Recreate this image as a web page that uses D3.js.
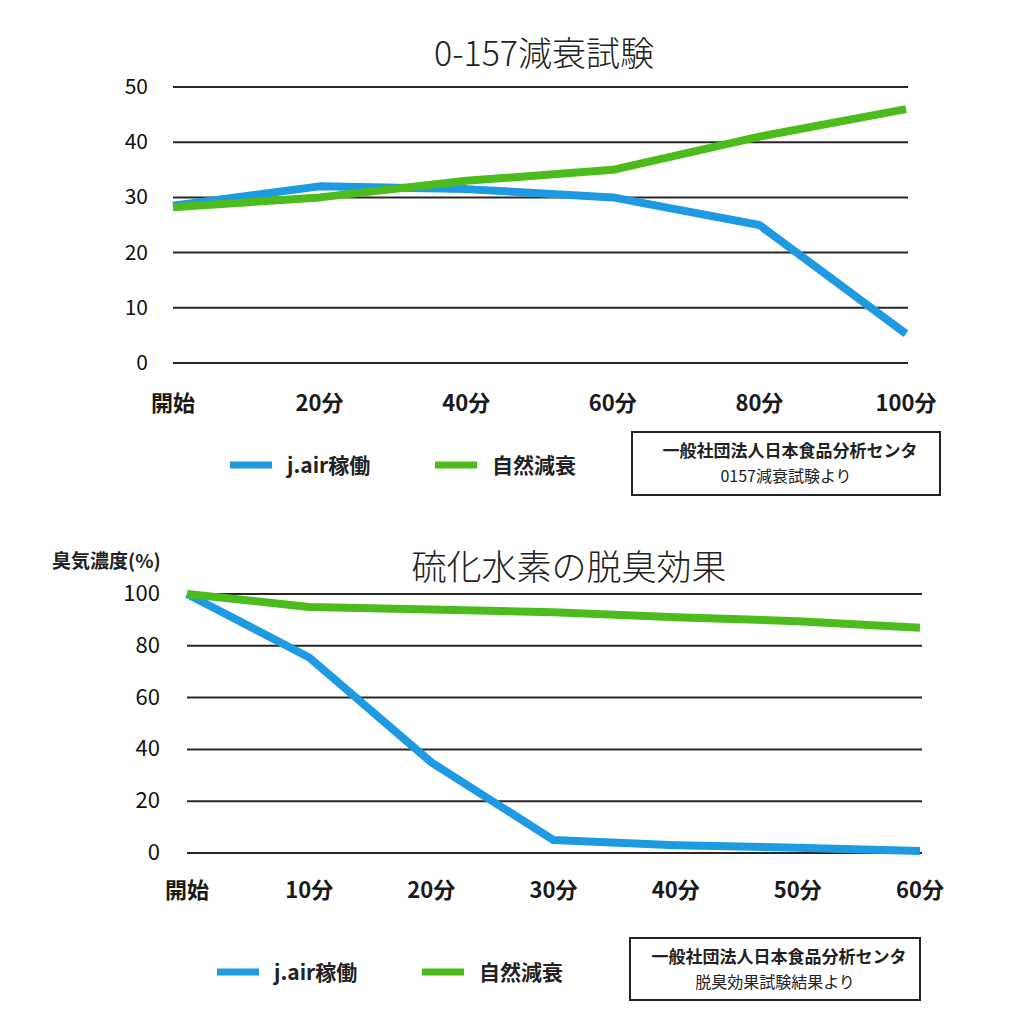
<!DOCTYPE html>
<html><head><meta charset="utf-8">
<script src="https://cdn.jsdelivr.net/npm/d3@7"></script>
<style>body{margin:0;background:#fff;} text{font-family:"Noto Sans CJK JP","Noto Sans",sans-serif;}</style>
</head><body>
<svg id="c" width="1009" height="1024"></svg>
<script>
const cats1 = ["開始","20分","40分","60分","80分","100分"];
const jair1 = [28.5, 32, 31.5, 30, 25, 5.3];
const nat1  = [28.2, 30, 33, 35, 41, 46];
const yTicks1 = [0,10,20,30,40,50];

const cats2 = ["開始","10分","20分","30分","40分","50分","60分"];
const jair2 = [100, 75.5, 35, 5, 3, 2, 0.8];
const nat2  = [100, 95, 94, 93, 91, 89.5, 87];
const yTicks2 = [0,20,40,60,80,100];

const seriesNames = ["j.air稼働","自然減衰"];
const colors = ["#1d9ae2","#4cbc1c"];

const svg = d3.select("#c");

function chart(o){
  const g = svg.append("g");
  const x = d3.scalePoint().domain(o.cats).range([o.x0,o.x1]);
  const y = d3.scaleLinear().domain([0,o.ymax]).range([o.yb,o.yt]);
  g.selectAll(".grid").data(o.ticks).enter().append("line")
    .attr("x1",o.x0).attr("x2",o.x1+2).attr("y1",d=>y(d)).attr("y2",d=>y(d))
    .attr("stroke","#2a2628").attr("stroke-width",2);
  g.selectAll(".yl").data(o.ticks).enter().append("text")
    .attr("x",o.ylx).attr("y",d=>y(d)+7).attr("text-anchor","end")
    .attr("font-size",o.yfs).attr("fill","#111").text(d=>d);
  g.selectAll(".xl").data(o.cats).enter().append("text")
    .attr("x",d=>x(d)).attr("y",o.xly).attr("text-anchor","middle")
    .attr("font-size",22).attr("font-weight","bold").attr("fill","#1a1a1a").text(d=>d);
  const line = d3.line().x((d,i)=>x(o.cats[i])).y(d=>y(d));
  [o.s1,o.s2].forEach((s,k)=>{
    g.append("path").attr("d",line(s)).attr("fill","none")
      .attr("stroke",colors[k]).attr("stroke-width",8).attr("stroke-linejoin","round");
  });
  g.append("text").attr("x",o.tx).attr("y",o.ty).attr("text-anchor","middle")
    .attr("font-size",o.tfs).attr("font-weight",300).attr("fill","#222").text(o.title);
  o.leg.forEach((lx,k)=>{
    g.append("line").attr("x1",lx).attr("x2",lx+42).attr("y1",o.legy).attr("y2",o.legy)
      .attr("stroke",colors[k]).attr("stroke-width",7);
    g.append("text").attr("x",lx+57).attr("y",o.legy+8).attr("font-size",21)
      .attr("font-weight","bold").attr("fill","#222").text(seriesNames[k]);
  });
  const b=o.box;
  g.append("rect").attr("x",b[0]).attr("y",b[1]).attr("width",b[2]).attr("height",b[3])
    .attr("fill","#fff").attr("stroke","#222").attr("stroke-width",2);
  b[4].forEach((t,i)=>{
    g.append("text").attr("x",b[0]+b[2]/2+(i==0?4:0)).attr("y",b[1]+25+i*25).attr("text-anchor","middle")
      .attr("font-size",i==0?17:16).attr("font-weight",i==0?"bold":"normal").attr("fill","#222").text(t);
  });
}

chart({cats:cats1,s1:jair1,s2:nat1,ticks:yTicks1,ymax:50,x0:173,x1:906,yb:363,yt:87,ylx:148,xly:411,yfs:21,
  title:"0-157減衰試験",tx:544,ty:66,tfs:34,leg:[230,435],legy:465,
  box:[632,432,308,63,["一般社団法人日本食品分析センタ","0157減衰試験より"]]});

chart({cats:cats2,s1:jair2,s2:nat2,ticks:yTicks2,ymax:100,x0:187,x1:920,yb:853,yt:594,ylx:160,xly:898,yfs:22,
  title:"硫化水素の脱臭効果",tx:569,ty:580,tfs:35,leg:[217,422],legy:972,
  box:[630,938,290,62,["一般社団法人日本食品分析センタ","脱臭効果試験結果より"]]});

svg.append("text").attr("x",52).attr("y",568).attr("font-size",19).attr("font-weight","bold")
  .attr("fill","#222").text("臭気濃度(%)");
</script>
</body></html>
